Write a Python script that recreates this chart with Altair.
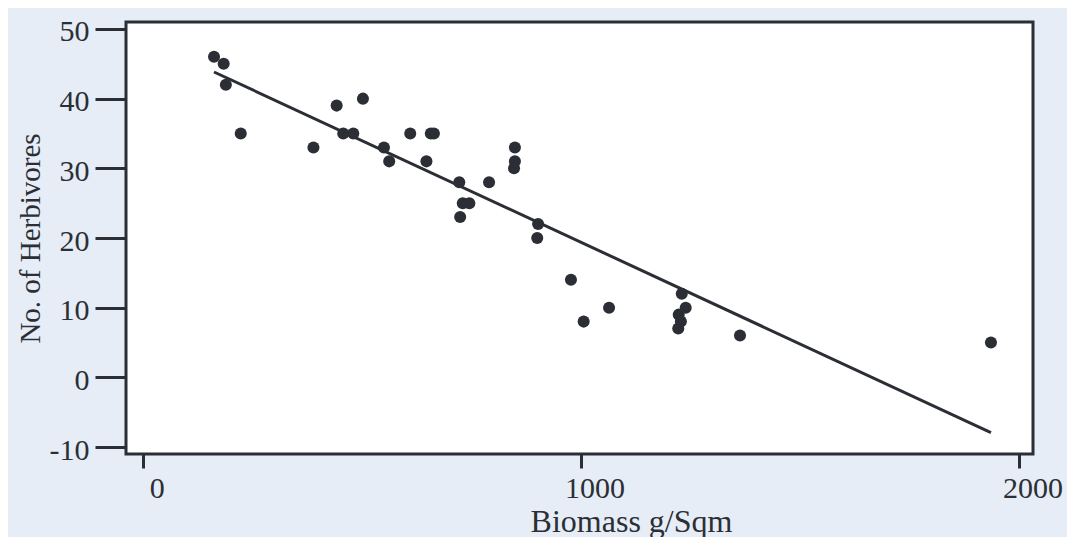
import altair as alt
import pandas as pd

# Values
biomass = [163, 185, 190, 224, 390, 443, 458, 481, 503, 551, 563, 611, 648, 658, 665,
           723, 725, 731, 746, 791, 850, 850, 848, 903, 901, 978, 1007, 1065,
           1231, 1240, 1224, 1229, 1223, 1364, 1937]
herbivores = [46, 45, 42, 35, 33, 39, 35, 35, 40, 33, 31, 35, 31, 35, 35,
              28, 23, 25, 25, 28, 33, 31, 30, 22, 20, 14, 8, 10,
              12, 10, 9, 8, 7, 6, 5]
x_ticks = [0, 1000, 2000]
y_ticks = [-10, 0, 10, 20, 30, 40, 50]

df = pd.DataFrame({"Biomass": biomass, "Herbivores": herbivores})

ink = "#2b2f35"
font = "Liberation Serif"

x_enc = alt.X(
    "Biomass:Q",
    scale=alt.Scale(domain=[-38, 2033], nice=False, zero=False),
    axis=alt.Axis(
        values=x_ticks, title="Biomass g/Sqm", tickSize=14, labelPadding=5,
        labelOffset=14, labelExpr="datum.value + ''",
        titleX=505, titleY=77, titleBaseline="alphabetic", titleAlign="center",
        titleFontSize=32,
    ),
)
y_enc = alt.Y(
    "Herbivores:Q",
    scale=alt.Scale(domain=[-11, 51], nice=False, zero=False),
    axis=alt.Axis(
        values=y_ticks, title="No. of Herbivores", tickSize=31, labelPadding=6,
        labelOffset=3, labelExpr="datum.value + ''",
        titleX=-87, titleY=216, titleBaseline="alphabetic", titleAlign="center",
        titleAngle=270, titleFontSize=29,
    ),
)

line = (
    alt.Chart(df)
    .transform_regression("Biomass", "Herbivores")
    .mark_line(color=ink, strokeWidth=3)
    .encode(x=x_enc, y=y_enc)
)
points = (
    alt.Chart(df)
    .mark_circle(size=145, color=ink, opacity=1)
    .encode(x=x_enc, y=y_enc)
)

chart = (
    alt.layer(line, points)
    .properties(
        width=907, height=432,
        autosize=alt.AutoSizeParams(type="none"),
        padding={"left": 118, "top": 14, "right": 34, "bottom": 83},
        background="#e6edf6",
    )
    .configure_view(fill="white", stroke=ink, strokeWidth=3)
    .configure_axis(
        domain=False, grid=False,
        labelFont=font, labelFontSize=30, labelColor=ink,
        titleFont=font, titleFontWeight="normal", titleColor=ink,
        tickColor=ink, tickWidth=3,
    )
)

chart.save("out.html", embed_options={"renderer": "svg", "actions": False})
